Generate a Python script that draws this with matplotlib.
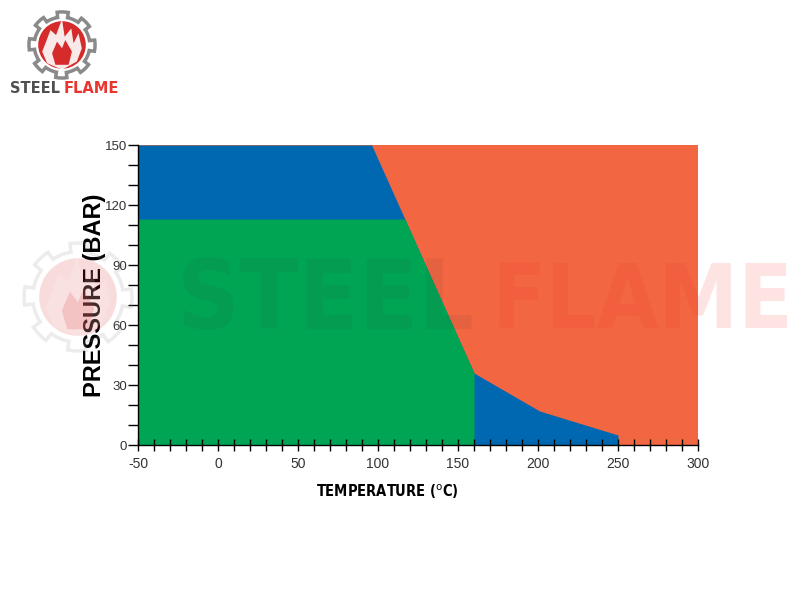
import numpy as np
import matplotlib.pyplot as plt
from matplotlib.patches import Circle, Polygon

# 坐标范围
temp_limits = [-50, 300]
pressure_limits = [0, 150]

# 分界线（橙色区域的左边界）
boundary_temp = [96, 160, 201, 250]
boundary_pressure = [150, 36, 17, 5]

# 绿色区域
green_top = 113
green_right = 160

x_ticks = [-50, 0, 50, 100, 150, 200, 250, 300]
y_ticks = [0, 30, 60, 90, 120, 150]

blue = '#0067B1'
green = '#00A554'
orange = '#F26641'

plt.rcParams['font.family'] = ['Liberation Sans', 'DejaVu Sans']
plt.rcParams['axes.unicode_minus'] = False

fig = plt.figure(figsize=(8, 6), dpi=100)
ax = fig.add_axes([0.1725, 0.2583, 0.70, 0.50])

# 橙色背景
ax.fill_between(temp_limits, pressure_limits[0], pressure_limits[1], color=orange, lw=0)

# 分界线以下为蓝色
ax.fill_between([temp_limits[0]] + boundary_temp, 0,
                [pressure_limits[1]] + boundary_pressure, color=blue, lw=0)

# 绿色区域：上边界取 113 与分界线的较小值
t_cross = np.interp(green_top, boundary_pressure[::-1], boundary_temp[::-1])
gx = np.array([temp_limits[0], t_cross, green_right])
gy = np.minimum(green_top, np.interp(gx, boundary_temp, boundary_pressure))
ax.fill_between(gx, 0, gy, color=green, lw=0)

ax.set_xlim(temp_limits)
ax.set_ylim(pressure_limits)
ax.set_xticks(x_ticks)
ax.set_yticks(y_ticks)
ax.set_xticks(np.arange(-50, 301, 10), minor=True)
ax.set_yticks(np.arange(0, 151, 10), minor=True)
ax.tick_params(axis='x', which='both', direction='inout', length=9, width=1,
               labelsize=10, labelcolor='#333333', pad=4)
ax.tick_params(axis='y', which='both', direction='out', length=7, width=1,
               labelsize=9.5, labelcolor='#333333', pad=1)
for s in ['top', 'right']:
    ax.spines[s].set_visible(False)
for s in ['left', 'bottom']:
    ax.spines[s].set_linewidth(1)

ax.set_ylabel('PRESSURE (BAR)', fontsize=17, fontweight='bold')
ax.yaxis.set_label_coords(-0.058, 0.5)
ax.set_xlabel(r'TEMPERATURE ($^{\mathrm{o}}$C)', fontsize=10.5, fontweight='bold',
              family='DejaVu Sans', fontstretch='condensed')
ax.xaxis.set_label_coords(0.445, -0.125)


def gear_outline(n_teeth=8, r_out=1.0, r_in=0.84):
    th = np.linspace(0, 2 * np.pi, 721)
    phase = (th * n_teeth / (2 * np.pi) + 0.25) % 1.0
    r = np.where(phase < 0.45, r_out, r_in)
    return np.column_stack([r * np.cos(th), r * np.sin(th)])


flame = [(-0.45, -0.55), (0.0, -0.75), (0.45, -0.5), (0.6, -0.1), (0.5, 0.35),
         (0.35, 0.05), (0.28, 0.5), (0.08, 0.25), (0.0, 0.78), (-0.18, 0.3),
         (-0.35, 0.45), (-0.5, 0.05), (-0.6, -0.2)]


def draw_logo(rect, alpha, zorder):
    lax = fig.add_axes(rect, zorder=zorder)
    lax.set_xlim(-1.15, 1.15)
    lax.set_ylim(-1.15, 1.15)
    lax.set_aspect('equal')
    lax.axis('off')
    lax.add_patch(Polygon(gear_outline(), closed=True, fill=False,
                          edgecolor='#8a8a8a', lw=2.5, alpha=alpha))
    lax.add_patch(Circle((0, 0), 0.72, color='#D62B2B', alpha=alpha, lw=0))
    lax.add_patch(Polygon(flame, closed=True, facecolor='white', alpha=alpha * 0.9,
                          lw=0))
    lax.add_patch(Polygon([(-0.2, -0.6), (0.2, -0.6), (0.3, -0.2), (0.1, 0.15),
                           (0.0, -0.1), (-0.15, 0.1), (-0.3, -0.25)], closed=True,
                          facecolor='#D62B2B', alpha=alpha, lw=0))
    return lax


# 左上角标志
draw_logo([0.03, 0.8617, 0.095, 0.1267], 1.0, 5)
fig.text(0.0125, 0.853, 'STEEL', fontsize=10.5, fontweight='bold', color='#505050',
         family='DejaVu Sans', va='center')
fig.text(0.08, 0.853, 'FLAME', fontsize=10.5, fontweight='bold', color='#E8352E',
         family='DejaVu Sans', va='center')

# 水印
draw_logo([0.02, 0.39, 0.155, 0.23], 0.16, 0)
fig.text(0.221, 0.495, 'STEEL', fontsize=70, fontweight='bold', color='#333333',
         alpha=0.07, family='DejaVu Sans', fontstretch='condensed', va='center',
         zorder=10)
fig.text(0.615, 0.495, 'FLAME', fontsize=64, fontweight='bold', color='#F23A2E',
         alpha=0.14, family='DejaVu Sans', fontstretch='condensed', va='center',
         zorder=10)

fig.savefig('out.png', dpi=100)
